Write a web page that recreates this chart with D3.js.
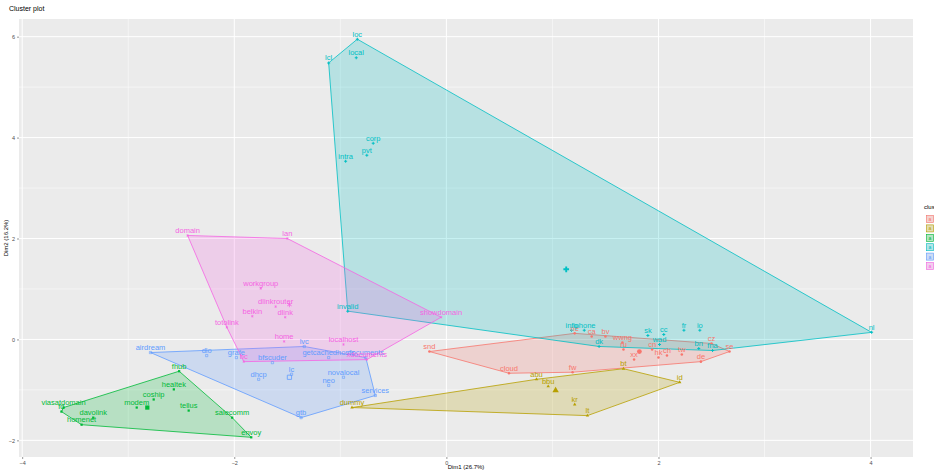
<!DOCTYPE html>
<html>
<head>
<meta charset="utf-8">
<script src="https://cdn.jsdelivr.net/npm/d3@7"></script>
<style>
  html, body { margin: 0; padding: 0; background: #fff; }
  svg { display: block; font-family: "Liberation Sans", Arial, sans-serif; }
</style>
</head>
<body>
<svg id="chart" width="934" height="472"></svg>
<script>
// Cluster membership and PCA coordinates of each observation
const clusterIds = ["1", "2", "3", "4", "5", "6"];
const clusterColors = ["#F8766D", "#B79F00", "#00BA38", "#00BFC4", "#619CFF", "#F564E3"];

const names = [
  // cluster 1
  "snd", "cloud", "fw", "ne", "ca", "bv", "wwng", "ru", "xx", "hk", "cn", "ch", "tw", "cz", "de", "se",
  // cluster 2
  "dummy", "abu", "bbu", "kr", "lt", "bt", "id",
  // cluster 3
  "fhub", "healtek", "coship", "modem", "tellus", "salecomm", "envoy", "viasatdomain", "fd", "davolink", "homenet",
  // cluster 4
  "loc", "lcl", "local", "corp", "pvt", "intra", "invalid", "nl", "info", "iphone", "sk", "cc", "fr", "io", "wad", "dk", "bn", "fna",
  // cluster 5
  "airdream", "dlo", "grafe", "bfscuder", "dhcp", "lc", "gtb", "neo", "novalocal", "services", "lvc", "getcachedhosts", "documents",
  // cluster 6
  "domain", "lan", "workgroup", "dlinkrouter", "belkin", "dlink", "totolink", "home", "localhost", "showdomain", "bc", "xdocuments"
];
const dim1 = [
  -0.16, 0.59, 1.19, 1.21, 1.37, 1.50, 1.66, 1.67, 1.77, 2.00, 1.94, 2.08, 2.22, 2.50, 2.40, 2.67,
  -0.89, 0.85, 0.96, 1.21, 1.33, 1.67, 2.20,
  -2.52, -2.57, -2.76, -2.92, -2.43, -2.02, -1.84, -3.61, -3.63, -3.33, -3.44,
  -0.84, -1.11, -0.85, -0.69, -0.75, -0.95, -0.93, 4.01, 1.18, 1.30, 1.90, 2.05, 2.24, 2.39, 2.01, 1.44, 2.38, 2.51,
  -2.79, -2.26, -1.98, -1.64, -1.77, -1.46, -1.37, -1.11, -0.97, -0.67, -1.34, -1.11, -0.76,
  -2.44, -1.50, -1.75, -1.61, -1.83, -1.52, -2.07, -1.53, -0.97, -0.05, -1.91, -0.75
];
const dim2 = [
  -0.24, -0.67, -0.65, 0.12, 0.06, 0.06, -0.06, -0.20, -0.40, -0.36, -0.20, -0.32, -0.30, -0.08, -0.44, -0.24,
  -1.35, -0.79, -0.93, -1.29, -1.51, -0.58, -0.85,
  -0.63, -0.99, -1.19, -1.35, -1.41, -1.55, -1.94, -1.35, -1.43, -1.55, -1.69,
  5.95, 5.48, 5.58, 3.89, 3.65, 3.53, 0.56, 0.14, 0.18, 0.18, 0.08, 0.10, 0.18, 0.18, -0.10, -0.14, -0.18, -0.22,
  -0.26, -0.32, -0.36, -0.46, -0.79, -0.69, -1.55, -0.91, -0.75, -1.11, -0.14, -0.36, -0.36,
  2.06, 2.00, 1.01, 0.65, 0.46, 0.44, 0.24, -0.04, -0.10, 0.44, -0.44, -0.40
];
const cluster = [
  1,1,1,1,1,1,1,1,1,1,1,1,1,1,1,1,
  2,2,2,2,2,2,2,
  3,3,3,3,3,3,3,3,3,3,3,
  4,4,4,4,4,4,4,4,4,4,4,4,4,4,4,4,4,4,
  5,5,5,5,5,5,5,5,5,5,5,5,5,
  6,6,6,6,6,6,6,6,6,6,6,6
];
// Cluster centres
const centreDim1 = [1.82, 1.03, -2.82, 1.13, -1.48, -1.48];
const centreDim2 = [-0.24, -1.01, -1.35, 1.39, -0.75, 0.69];

const xTicks = [-4, -2, 0, 2, 4];
const yTicks = [-2, 0, 2, 4, 6];
const xTitle = "Dim1 (26.7%)";
const yTitle = "Dim2 (16.2%)";
const plotTitle = "Cluster plot";
const legendTitle = "cluster";

// ---- layout ----
const svg = d3.select("#chart");
const panel = { left: 19, right: 913, top: 19, bottom: 457 };

const x = d3.scaleLinear().domain([-4.03, 4.40]).range([panel.left, panel.right]);
const y = d3.scaleLinear().domain([-2.33, 6.35]).range([panel.bottom, panel.top]);

const points = names.map((n, i) => ({ name: n, x: dim1[i], y: dim2[i], c: cluster[i] }));

// panel background
svg.append("rect")
  .attr("x", panel.left).attr("y", panel.top)
  .attr("width", panel.right - panel.left).attr("height", panel.bottom - panel.top)
  .attr("fill", "#EBEBEB");

// grid: minor then major
const grid = svg.append("g");
const minorX = xTicks.slice(0, -1).map((t, i) => (t + xTicks[i + 1]) / 2);
const minorY = yTicks.slice(0, -1).map((t, i) => (t + yTicks[i + 1]) / 2);
grid.selectAll(".mx").data(minorX).join("line")
  .attr("x1", d => x(d)).attr("x2", d => x(d))
  .attr("y1", panel.top).attr("y2", panel.bottom)
  .attr("stroke", "#fff").attr("stroke-width", 0.5);
grid.selectAll(".my").data(minorY).join("line")
  .attr("y1", d => y(d)).attr("y2", d => y(d))
  .attr("x1", panel.left).attr("x2", panel.right)
  .attr("stroke", "#fff").attr("stroke-width", 0.5);
grid.selectAll(".Mx").data(xTicks).join("line")
  .attr("x1", d => x(d)).attr("x2", d => x(d))
  .attr("y1", panel.top).attr("y2", panel.bottom)
  .attr("stroke", "#fff").attr("stroke-width", 1);
grid.selectAll(".My").data(yTicks).join("line")
  .attr("y1", d => y(d)).attr("y2", d => y(d))
  .attr("x1", panel.left).attr("x2", panel.right)
  .attr("stroke", "#fff").attr("stroke-width", 1);

// axes
const xAxis = d3.axisBottom(x).tickValues(xTicks).tickSize(2).tickPadding(2).tickFormat(d3.format("d"));
const yAxis = d3.axisLeft(y).tickValues(yTicks).tickSize(2).tickPadding(2).tickFormat(d3.format("d"));
const gx = svg.append("g").attr("transform", `translate(0,${panel.bottom})`).call(xAxis);
const gy = svg.append("g").attr("transform", `translate(${panel.left},0)`).call(yAxis);
[gx, gy].forEach(g => {
  g.select(".domain").remove();
  g.selectAll(".tick line").attr("stroke", "#333").attr("stroke-width", 0.5);
  g.selectAll(".tick text").attr("fill", "#4D4D4D").attr("font-size", 5.5);
});

// hulls
const hullLayer = svg.append("g");
clusterIds.forEach((id, k) => {
  const pts = points.filter(p => p.c === k + 1).map(p => [x(p.x), y(p.y)]);
  const hull = d3.polygonHull(pts);
  if (!hull) return;
  hullLayer.append("path")
    .attr("d", "M" + hull.join("L") + "Z")
    .attr("fill", clusterColors[k]).attr("fill-opacity", 0.22)
    .attr("stroke", clusterColors[k]).attr("stroke-width", 0.8);
});

// point symbols per cluster
const symbolTypes = [d3.symbolCircle, d3.symbolTriangle, d3.symbolSquare, d3.symbolCross, d3.symbolSquare, d3.symbolAsterisk];
const ptLayer = svg.append("g");
ptLayer.selectAll("path").data(points).join("path")
  .attr("transform", d => `translate(${x(d.x)},${y(d.y)})`)
  .attr("d", d => d3.symbol(symbolTypes[d.c - 1], 5)())
  .attr("fill", d => (d.c === 5 ? "none" : clusterColors[d.c - 1]))
  .attr("stroke", d => (d.c === 5 || d.c === 6 ? clusterColors[d.c - 1] : "none"))
  .attr("stroke-width", 0.6);

// centres
ptLayer.selectAll(".cent").data(clusterIds).join("path")
  .attr("transform", (d, i) => `translate(${x(centreDim1[i])},${y(centreDim2[i])})`)
  .attr("d", (d, i) => d3.symbol(symbolTypes[i], 18)())
  .attr("fill", (d, i) => (i === 4 ? "none" : clusterColors[i]))
  .attr("stroke", (d, i) => (i >= 4 ? clusterColors[i] : "none"))
  .attr("stroke-width", 0.8);

// labels
svg.append("g").selectAll("text").data(points).join("text")
  .attr("x", d => x(d.x)).attr("y", d => y(d.y) - 2.5)
  .attr("text-anchor", "middle")
  .attr("font-size", 7.5)
  .attr("fill", d => clusterColors[d.c - 1])
  .text(d => d.name);

// titles
svg.append("text").attr("x", 9).attr("y", 11).attr("font-size", 7).attr("fill", "#000").text(plotTitle);
svg.append("text").attr("x", (panel.left + panel.right) / 2).attr("y", 469)
  .attr("text-anchor", "middle").attr("font-size", 6).attr("fill", "#000").text(xTitle);
svg.append("text").attr("transform", `translate(8,${(panel.top + panel.bottom) / 2}) rotate(-90)`)
  .attr("text-anchor", "middle").attr("font-size", 6).attr("fill", "#000").text(yTitle);

// legend
const lg = svg.append("g").attr("transform", "translate(924,205)");
lg.append("text").attr("x", 0).attr("y", 4).attr("font-size", 6).text(legendTitle);
clusterIds.forEach((id, k) => {
  const row = lg.append("g").attr("transform", `translate(2,${10 + k * 9.4})`);
  row.append("rect").attr("width", 8).attr("height", 8)
    .attr("fill", "#F2F2F2");
  row.append("rect").attr("x", 0.5).attr("y", 0.5).attr("width", 7).attr("height", 7)
    .attr("fill", clusterColors[k]).attr("fill-opacity", 0.25)
    .attr("stroke", clusterColors[k]).attr("stroke-width", 0.6);
  row.append("text").attr("x", 4).attr("y", 6).attr("text-anchor", "middle")
    .attr("font-size", 5).attr("fill", clusterColors[k]).text("a");
});
</script>
</body>
</html>
